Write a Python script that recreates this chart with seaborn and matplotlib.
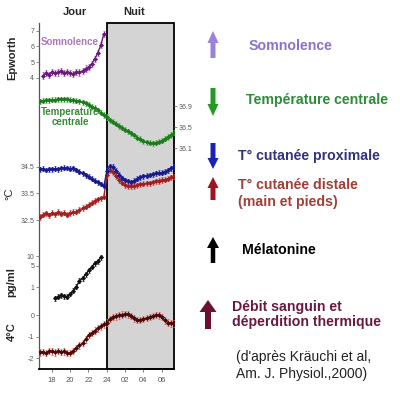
import numpy as np
import pandas as pd
import matplotlib
matplotlib.use("Agg")
import matplotlib.pyplot as plt
import seaborn as sns
from matplotlib.patches import Rectangle, FancyArrow
from matplotlib.ticker import NullLocator

sns.set_theme(style="white")
plt.rcParams['font.family'] = ['Liberation Sans', 'DejaVu Sans']

# ---------------- data ----------------
# time of day in hours (24 = midnight, 26 = 02 h, ...)
hours = [16.70, 17.03, 17.37, 17.70, 18.03, 18.37, 18.70, 19.03, 19.37, 19.70,
         20.03, 20.37, 20.70, 21.03, 21.37, 21.70, 22.03, 22.37, 22.70, 23.03,
         23.37, 23.70, 24.03, 24.37, 24.70, 25.03, 25.37, 25.70, 26.03, 26.37,
         26.70, 27.03, 27.37, 27.70, 28.03, 28.37, 28.70, 29.03, 29.37, 29.70,
         30.03, 30.37, 30.70, 31.03, 31.37]
x_ticks = [18, 20, 22, 24, 26, 28, 30]
x_labels = ["18", "20", "22", "24", "02", "04", "06"]

# Somnolence (Epworth), 17h -> 23h40
somn_hours = hours[1:22]
somnolence = [4.15, 4.30, 4.20, 4.40, 4.30, 4.35, 4.45, 4.30, 4.40, 4.30,
              4.25, 4.40, 4.35, 4.45, 4.60, 4.70, 4.90, 5.20, 5.60, 6.10, 6.80]
somn_err = 0.2

# Core temperature (°C)
core_temp = [36.99, 37.00, 37.01, 37.01, 37.02, 37.02, 37.03, 37.03, 37.03, 37.03,
             37.02, 37.01, 37.00, 36.99, 36.97, 36.95, 36.92, 36.89, 36.86, 36.82,
             36.77, 36.73, 36.69, 36.63, 36.60, 36.56, 36.52, 36.49, 36.45, 36.42,
             36.38, 36.34, 36.30, 36.27, 36.23, 36.21, 36.20, 36.19, 36.20, 36.22,
             36.24, 36.28, 36.31, 36.35, 36.39]
core_err = 0.05

# Proximal skin temperature (°C)
proximal = [34.40, 34.42, 34.38, 34.41, 34.40, 34.43, 34.41, 34.44, 34.46, 34.45,
            34.43, 34.44, 34.38, 34.32, 34.25, 34.18, 34.12, 34.05, 33.98, 33.92,
            33.85, 33.78, 34.35, 34.52, 34.50, 34.35, 34.20, 34.08, 34.00, 33.95,
            33.93, 33.98, 34.05, 34.10, 34.14, 34.17, 34.19, 34.22, 34.25, 34.27,
            34.28, 34.32, 34.36, 34.44, 34.50]
prox_err = 0.09

# Distal skin temperature (°C)
distal = [32.62, 32.70, 32.75, 32.68, 32.78, 32.72, 32.80, 32.74, 32.78, 32.70,
          32.76, 32.80, 32.82, 32.88, 32.95, 33.00, 33.08, 33.15, 33.22, 33.28,
          33.32, 33.38, 34.18, 34.36, 34.30, 34.15, 34.00, 33.90, 33.82, 33.78,
          33.76, 33.76, 33.80, 33.84, 33.86, 33.88, 33.88, 33.92, 33.95, 33.97,
          34.00, 34.02, 34.05, 34.10, 34.14]
dist_err = 0.1

# Melatonin (pg/ml), 18h20 -> 23h20
mel_hours = hours[5:21]
melatonin = [0.45, 0.50, 0.56, 0.52, 0.50, 0.62, 0.78, 1.05, 1.65, 2.00,
             2.60, 3.50, 4.60, 6.00, 6.80, 9.50]
mel_rel_err = 0.18

# Distal-proximal gradient (4°C)
gradient = [-1.72, -1.70, -1.75, -1.66, -1.68, -1.72, -1.65, -1.70, -1.68, -1.74,
            -1.76, -1.65, -1.52, -1.40, -1.30, -1.12, -0.92, -0.82, -0.72, -0.62,
            -0.52, -0.43, -0.35, -0.18, -0.10, -0.06, -0.02, 0.02, 0.04, 0.03,
            -0.05, -0.15, -0.24, -0.22, -0.18, -0.14, -0.10, -0.05, 0.00, -0.02,
            -0.10, -0.25, -0.35, -0.38, -0.40]
grad_err = 0.15

# ---------------- layout ----------------
W_PX, H_PX = 400, 397
X0, X1 = 39.0, 174.3     # axes left / right (px)
Y_TOP, Y_BOT = 23.0, 369.0
fig = plt.figure(figsize=(W_PX / 100, H_PX / 100), dpi=100)
fig.patch.set_facecolor("white")
pos = [X0 / W_PX, 1 - Y_BOT / H_PX, (X1 - X0) / W_PX, (Y_BOT - Y_TOP) / H_PX]
XMIN, XMAX = 16.6, 31.4

ax = fig.add_axes(pos)
ax.set_facecolor("white")
ax.set_ylim(0, 1)
ax.set_yticks([])
ax.add_patch(Rectangle((24, 0), XMAX - 24, 1, facecolor="#d4d4d4",
                       edgecolor="black", lw=1.3, clip_on=False, zorder=0))
for s in ("top", "right"):
    ax.spines[s].set_visible(False)
ax.spines["left"].set_color("#555555")
ax.spines["left"].set_linewidth(0.9)
ax.spines["bottom"].set_color("black")
ax.spines["bottom"].set_linewidth(1.3)
ax.set_xticks(x_ticks)
ax.set_xticklabels(x_labels)
ax.tick_params(axis="x", bottom=True, length=2.5, width=0.6, color="#666666",
               labelsize=5.5, labelcolor="#555555", pad=3)


def ylim_lin(v0, y0, k):
    return (v0 - (Y_BOT - y0) / k, v0 + (y0 - Y_TOP) / k)


def overlay(ylim, ticks, labels, side="left", log=False):
    a = fig.add_axes(pos, sharex=ax)
    a.set_facecolor("none")
    for s in a.spines.values():
        s.set_visible(False)
    if log:
        a.set_yscale("log")
    a.set_ylim(*ylim)
    a.set_yticks(ticks)
    a.set_yticklabels(labels)
    a.yaxis.set_minor_locator(NullLocator())
    a.tick_params(axis="x", bottom=False, labelbottom=False)
    a.tick_params(axis="y", left=(side == "left"), labelleft=(side == "left"),
                  right=(side == "right"), labelright=(side == "right"),
                  length=2.5, width=0.6, color="#777777", labelsize=5,
                  labelcolor="#555555", pad=1)
    return a


def series(a, xs, ys, err, line_c, err_c, ms=2.6):
    sns.lineplot(x=xs, y=ys, ax=a, color=line_c, linewidth=1.0, marker="D",
                 markersize=ms, markeredgewidth=0, markerfacecolor=line_c)
    a.errorbar(xs, ys, yerr=err, fmt="none", ecolor=err_c, elinewidth=0.6,
               capsize=1.0, capthick=0.6, zorder=1)
    a.set_xlabel("")
    a.set_ylabel("")


# Somnolence
a1 = overlay(ylim_lin(4, 78.0, 15.8), [4, 5, 6, 7], ["4", "5", "6", "7"])
series(a1, somn_hours, somnolence, somn_err, "#6a1b7a", "#a060c0")

# Core temperature (right axis)
a2 = overlay(ylim_lin(36.9, 106.0, 52.5), [36.1, 36.5, 36.9],
             ["36.1", "36.5", "36.9"], side="right")
series(a2, hours, core_temp, core_err, "#1e7a1e", "#4cc04c")

# Skin temperatures
a3 = overlay(ylim_lin(34.5, 166.7, 26.7), [32.5, 33.5, 34.5],
             ["32.5", "33.5", "34.5"])
series(a3, hours, distal, dist_err, "#a02020", "#e05555")
series(a3, hours, proximal, prox_err, "#1a1a8a", "#3545d0")

# Melatonin (log)
k_log = 31.0
a4 = overlay((10 ** (-(Y_BOT - 287.3) / k_log), 10 ** ((287.3 - Y_TOP) / k_log)),
             [1, 5, 10], ["1", "5", "10"], log=True)
mel_err = [m * mel_rel_err for m in melatonin]
series(a4, mel_hours, melatonin, mel_err, "#111111", "#333333")

# Gradient
a5 = overlay(ylim_lin(0, 315.0, 21.7), [-2, -1, 0], ["-2", "-1", "0"])
series(a5, hours, gradient, grad_err, "#4a0a0a", "#e06060")

ax.set_xlim(XMIN, XMAX)

# ---------------- annotations (pixel coordinates) ----------------
t = fig.add_axes([0, 0, 1, 1])
t.set_xlim(0, W_PX)
t.set_ylim(H_PX, 0)
t.axis("off")
t.patch.set_alpha(0)

t.text(75, 12, "Jour", ha="center", va="center", fontsize=8, fontweight="bold")
t.text(134, 12, "Nuit", ha="center", va="center", fontsize=8, fontweight="bold")
t.text(12, 58, "Epworth", rotation=90, ha="center", va="center", fontsize=8,
       fontweight="bold")
t.text(9, 194, "°C", rotation=90, ha="center", va="center", fontsize=8)
t.text(11, 282, "pg/ml", rotation=90, ha="center", va="center", fontsize=8,
       fontweight="bold")
t.text(12, 332, "4°C", rotation=90, ha="center", va="center", fontsize=8,
       fontweight="bold")

t.text(41, 42, "Somnolence", ha="left", va="center", fontsize=7,
       fontweight="bold", color="#a878c0")
t.text(70, 117, "Temperature\ncentrale", ha="center", va="center", fontsize=7,
       fontweight="bold", color="#3a8a3a", linespacing=1.1)

arrows = [
    (213, 58, 31, "#9b80dc", 5, 11, 12),
    (213, 88, 116, "#229a22", 5, 11, 12),
    (213, 143, 169, "#1a22b4", 5, 11, 11),
    (213, 200, 177, "#a0141e", 5, 11, 11),
    (213, 263, 237, "#000000", 4.5, 12, 11),
    (208, 329, 300, "#6e1030", 6, 17, 12),
]
for x, y0, y1, c, w, hw, hl in arrows:
    t.add_patch(FancyArrow(x, y0, 0, y1 - y0, width=w, head_width=hw,
                           head_length=hl, length_includes_head=True,
                           color=c, lw=0))

fs = 10.2
t.text(249, 46, "Somnolence", fontsize=fs, fontweight="bold", color="#8a72cc",
       va="center")
t.text(246, 100, "Température centrale", fontsize=fs, fontweight="bold",
       color="#2e8b3a", va="center")
t.text(238, 156, "T° cutanée proximale", fontsize=fs, fontweight="bold",
       color="#34347e", va="center")
t.text(238, 185, "T° cutanée distale", fontsize=fs, fontweight="bold",
       color="#a04038", va="center")
t.text(238, 202, "(main et pieds)", fontsize=fs, fontweight="bold",
       color="#a04038", va="center")
t.text(242, 250, "Mélatonine", fontsize=fs, fontweight="bold", color="black",
       va="center")
t.text(232, 307, "Débit sanguin et", fontsize=fs, fontweight="bold",
       color="#6a1a40", va="center")
t.text(232, 322, "déperdition thermique", fontsize=fs, fontweight="bold",
       color="#6a1a40", va="center")
t.text(236, 357, "(d'après Kräuchi et al,", fontsize=10, color="#222222",
       va="center")
t.text(236, 374, "Am. J. Physiol.,2000)", fontsize=10, color="#222222",
       va="center")

fig.savefig("out.png", dpi=100, facecolor="white")
